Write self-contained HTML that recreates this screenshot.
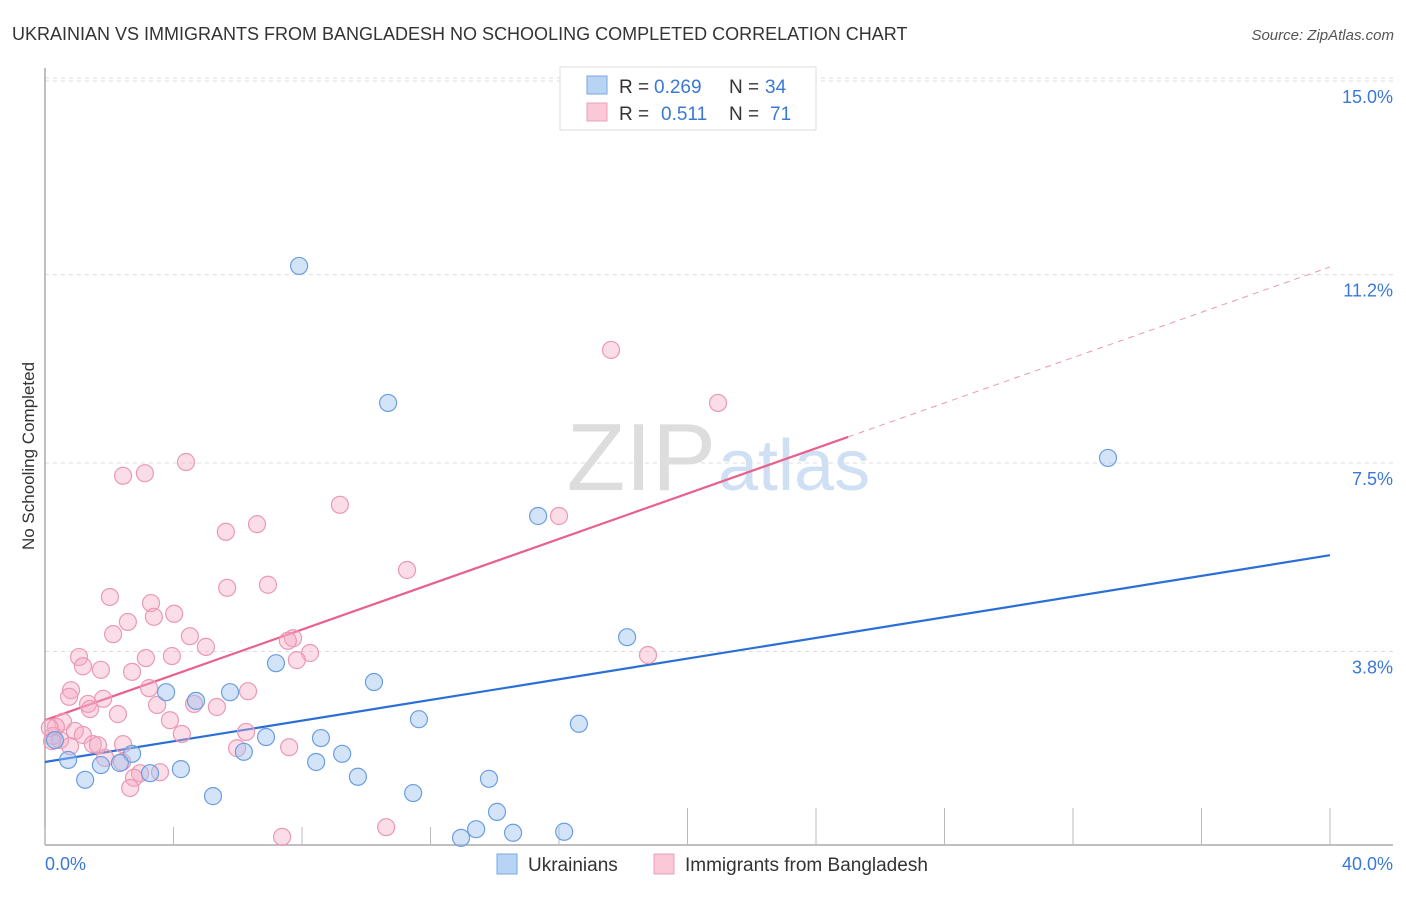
<!DOCTYPE html>
<html><head><meta charset="utf-8">
<style>
body{margin:0;background:#fff;font-family:"Liberation Sans",sans-serif;}
svg text{font-family:"Liberation Sans",sans-serif;}
</style></head>
<body>
<svg width="1406" height="892" viewBox="0 0 1406 892">
<text x="12" y="40" font-size="18" fill="#333">UKRAINIAN VS IMMIGRANTS FROM BANGLADESH NO SCHOOLING COMPLETED CORRELATION CHART</text>
<text x="1394" y="40" font-size="15" fill="#555" text-anchor="end" font-style="italic">Source: ZipAtlas.com</text>
<text x="0" y="0" transform="translate(34,456) rotate(-90)" font-size="17" fill="#333" text-anchor="middle">No Schooling Completed</text>
<g id="grid"></g>
<g id="axes"></g>
<text x="716" y="490" font-size="96" fill="#ddd" text-anchor="end" font-family="Liberation Serif">ZIP</text>
<text x="718" y="490" font-size="72" fill="#cfe0f5">atlas</text>
<g id="trend"></g>
<g id="pts"></g>
<g>
<rect x="560" y="67" width="256" height="63" fill="#fff" stroke="#ddd"/>
<rect x="587" y="76" width="20" height="18" fill="#b8d4f5" stroke="#7aa7e0"/>
<rect x="587" y="103" width="20" height="18" fill="#fac8d6" stroke="#eea0b8"/>
<text y="93" font-size="19" fill="#333"><tspan x="619">R =</tspan><tspan x="654" fill="#3a78d8">0.269</tspan><tspan x="729">N =</tspan><tspan x="765" fill="#3a78d8">34</tspan></text>
<text y="120" font-size="19" fill="#333"><tspan x="619">R =</tspan><tspan x="661" fill="#3a78d8">0.511</tspan><tspan x="729">N =</tspan><tspan x="770" fill="#3a78d8">71</tspan></text>
</g>
<g>
<rect x="497" y="854" width="20" height="20" fill="#b8d4f5" stroke="#7aa7e0"/>
<text x="528" y="871" font-size="19" fill="#333">Ukrainians</text>
<rect x="654" y="854" width="20" height="20" fill="#fac8d6" stroke="#eea0b8"/>
<text x="685" y="871" font-size="19" fill="#333">Immigrants from Bangladesh</text>
</g>
</svg>
<script>
const yTicks=[3.8,7.5,11.2,15.0];
const yTickLabels=["3.8%","7.5%","11.2%","15.0%"];
const xTicks=[0,4,8,12,16,20,24,28,32,36,40];
const blueX=[7.91,10.68,33.09,15.35,18.12,7.19,10.24,3.77,4.70,5.76,11.64,16.62,6.88,8.59,6.19,9.25,2.71,8.44,0.72,1.74,2.33,3.27,4.23,9.74,13.82,1.25,5.23,11.46,14.07,13.42,14.57,16.16,12.95,0.31];
const blueY=[11.37,8.68,7.60,6.46,4.08,3.57,3.20,3.00,2.83,3.00,2.47,2.38,2.12,2.10,1.83,1.79,1.79,1.63,1.67,1.57,1.61,1.41,1.49,1.34,1.30,1.28,0.96,1.02,0.65,0.31,0.24,0.26,0.14,2.06];
const pinkX=[17.62,20.95,4.39,2.43,3.11,9.18,16.00,6.60,5.63,11.27,6.94,5.67,2.02,3.30,4.02,3.39,2.58,2.12,4.51,7.72,7.56,5.01,1.06,3.14,3.95,8.25,7.84,1.18,1.74,2.71,0.81,0.75,3.24,6.32,1.81,1.34,3.49,4.64,5.35,1.40,2.27,3.89,0.56,0.34,0.93,1.18,4.26,6.26,0.25,0.47,0.22,1.49,1.65,2.43,5.98,7.60,0.78,1.87,2.40,3.58,2.96,2.77,2.65,18.77,10.62,7.38,0.15];
const pinkY=[9.72,8.68,7.52,7.25,7.30,6.68,6.46,6.30,6.15,5.40,5.11,5.05,4.87,4.75,4.54,4.48,4.38,4.14,4.10,4.06,4.01,3.89,3.69,3.67,3.71,3.77,3.63,3.51,3.44,3.40,3.04,2.91,3.08,3.02,2.87,2.77,2.75,2.77,2.71,2.67,2.57,2.45,2.42,2.32,2.24,2.16,2.18,2.22,2.14,2.06,2.04,1.98,1.96,1.98,1.90,1.92,1.94,1.71,1.63,1.43,1.41,1.32,1.12,3.73,0.35,0.16,2.30];
const blueTrend=[1.63,5.69];
const pinkTrend=[2.45,11.35];
const pinkSolidEnd=25;
const NS="http://www.w3.org/2000/svg";
const X=v=>45+v/40*1285, Y=v=>845-v*50.93;
function mk(tag,attrs,parent){const e=document.createElementNS(NS,tag);for(const k in attrs)e.setAttribute(k,attrs[k]);parent.appendChild(e);return e;}
const grid=document.getElementById('grid'),axes=document.getElementById('axes');
yTicks.forEach((t,i)=>{
 const l=mk('line',{x1:45,x2:1393,y1:Y(t),y2:Y(t),stroke:'#ddd','stroke-dasharray':'4,4'},grid);
 
 
 const tx=mk('text',{x:1393,y:Y(t)+22,'font-size':18,fill:'#3a78d8','text-anchor':'end'},grid);
 tx.textContent=yTickLabels[i];
 
 
});
const topLine=mk('line',{x1:45,x2:1393,y1:78,y2:78,stroke:'#ddd','stroke-dasharray':'4,4'},grid);


const ya=mk('line',{x1:45,x2:45,y1:68,y2:845,stroke:'#aaa','stroke-width':1.5},axes);


const xa=mk('line',{x1:45,x2:1393,y1:845,y2:845,stroke:'#aaa','stroke-width':1.5},axes);


xTicks.forEach(t=>{
 const tk=mk('line',{x1:X(t),x2:X(t),y1:(t>=20?808:827),y2:845,stroke:'#bbb'},axes);
 
 
});
const xl0=mk('text',{x:45,y:870,'font-size':18,fill:'#3a78d8'},axes);xl0.textContent='0.0%';


const xl1=mk('text',{x:1393,y:870,'font-size':18,fill:'#3a78d8','text-anchor':'end'},axes);xl1.textContent='40.0%';


const pts=document.getElementById('pts');
pinkX.forEach((x,i)=>{
 const c=mk('circle',{cx:X(x),cy:Y(pinkY[i]),r:8.5,fill:'rgba(246,170,196,0.4)',stroke:'#eb98b5','stroke-width':1.2},pts);
 
 
});
blueX.forEach((x,i)=>{
 const c=mk('circle',{cx:X(x),cy:Y(blueY[i]),r:8.5,fill:'rgba(160,196,240,0.45)',stroke:'#6a9ee0','stroke-width':1.2},pts);
 
 
});
const tr=document.getElementById('trend');
const pAt=v=>pinkTrend[0]+(pinkTrend[1]-pinkTrend[0])*v/40;
const bl=mk('line',{x1:X(0),y1:Y(blueTrend[0]),x2:X(40),y2:Y(blueTrend[1]),stroke:'#2b6fd6','stroke-width':2.2},tr);


const pl=mk('line',{x1:X(0),y1:Y(pAt(0)),x2:X(pinkSolidEnd),y2:Y(pAt(pinkSolidEnd)),stroke:'#e8608e','stroke-width':2.2},tr);


const pd=mk('line',{x1:X(pinkSolidEnd),y1:Y(pAt(pinkSolidEnd)),x2:X(40),y2:Y(pAt(40)),stroke:'#eb98b5','stroke-width':1,'stroke-dasharray':'6,5'},tr);


</script>
</body></html>
